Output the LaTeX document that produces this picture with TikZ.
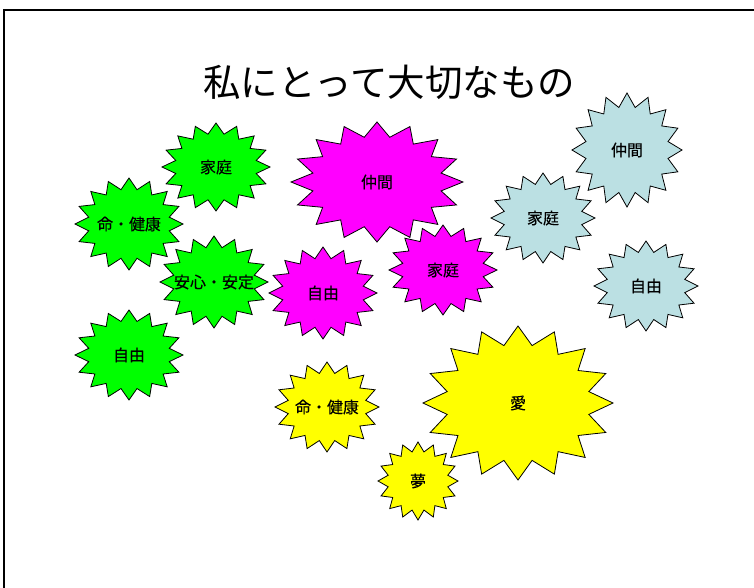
\documentclass[tikz,border=0pt]{standalone}
\usepackage{fontspec}
\newfontfamily\jp{Noto Sans CJK JP}
\newfontfamily\jpl[FakeBold=0.3]{Noto Sans CJK JP}
\definecolor{sgreen}{HTML}{00FF00}
\definecolor{smag}{HTML}{FF00FF}
\definecolor{sblue}{HTML}{BBE0E3}
\definecolor{syellow}{HTML}{FFFF00}
\tikzset{
  sealstyle/.style={draw=black, line width=0.8pt, line join=miter},
  lbl/.style={font=\jpl\fontsize{16}{18}\selectfont, inner sep=0pt, text=black},
  titlestyle/.style={font=\jp\fontsize{37.5}{42}\selectfont, inner sep=0pt},
  framestyle/.style={draw=black, line width=1.6pt}
}
% name, cx, cy, rx, ry, color, text
\newcommand\sealstar[7]{%
  \filldraw[sealstyle, fill=#6] ({#2+#4},#3)
    \foreach \k in {0,...,15}{
      -- ({#2+0.76*#4*cos(\k*22.5+11.25)},{#3+0.76*#5*sin(\k*22.5+11.25)})
      -- ({#2+#4*cos((\k+1)*22.5)},{#3+#5*sin((\k+1)*22.5)})
    } -- cycle;
  \node[lbl] (#1) at (#2,#3) {#7};
}
\begin{document}
\begin{tikzpicture}[x=1pt,y=-1pt]
  \useasboundingbox (0,0) rectangle (754,588);
  \fill[white] (0,0) rectangle (754,588);
  \coordinate (fbl) at (4,590);
  \coordinate (ftl) at (4,10);
  \coordinate (ftr) at (756,10);
  \draw[framestyle] (fbl) -- (ftl) -- (ftr);
  \node[titlestyle] (title) at (389,82) {私にとって大切なもの};
  % green
  \sealstar{gKatei}{216}{167}{54}{44}{sgreen}{家庭}
  \sealstar{gInochi}{129}{224}{54}{46}{sgreen}{命・健康}
  \sealstar{gAnshin}{214}{282}{54}{46}{sgreen}{安心・安定}
  \sealstar{gJiyu}{129}{355}{54}{45}{sgreen}{自由}
  % magenta
  \sealstar{mNakama}{377}{182}{86}{60}{smag}{仲間}
  \sealstar{mKatei}{443}{270}{54}{45}{smag}{家庭}
  \sealstar{mJiyu}{323}{293}{54}{46}{smag}{自由}
  % light blue
  \sealstar{bNakama}{627}{150}{55}{57}{sblue}{仲間}
  \sealstar{bKatei}{543}{218}{52}{45}{sblue}{家庭}
  \sealstar{bJiyu}{646}{286}{52}{45}{sblue}{自由}
  % yellow
  \sealstar{yInochi}{327}{407}{52}{45}{syellow}{命・健康}
  \sealstar{yAi}{518}{403}{95}{77}{syellow}{愛}
  \sealstar{yYume}{418}{481}{40}{39}{syellow}{夢}
\end{tikzpicture}
\end{document}
